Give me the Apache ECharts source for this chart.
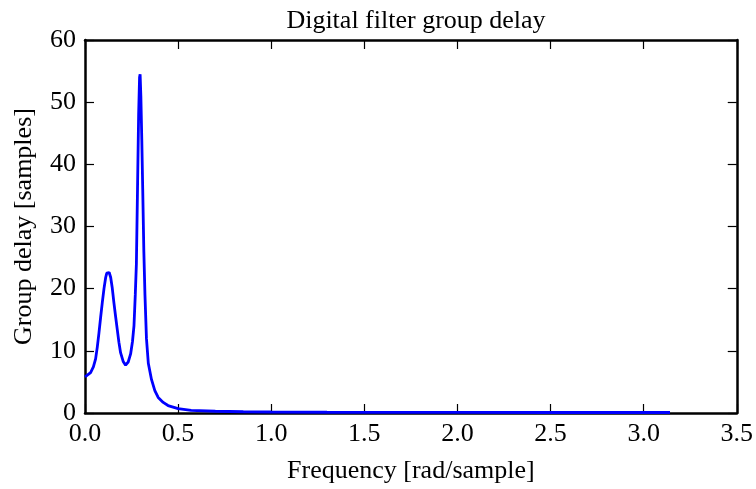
<!DOCTYPE html>
<html>
<head>
<meta charset="utf-8">
<script src="https://cdn.jsdelivr.net/npm/echarts@6/dist/echarts.min.js"></script>
<style>
html,body{margin:0;padding:0;background:#fff;}
#chart{width:756px;height:489px;}
</style>
</head>
<body>
<div id="chart"></div>
<script>
// Values
const freq = [0.0, 0.01, 0.03, 0.045, 0.057, 0.066, 0.075, 0.084, 0.093, 0.102, 0.111, 0.117, 0.123, 0.130, 0.138, 0.146, 0.155, 0.164, 0.173, 0.182, 0.191, 0.205, 0.218, 0.232, 0.245, 0.255, 0.263, 0.270, 0.276, 0.282, 0.288, 0.293, 0.296, 0.300, 0.305, 0.310, 0.316, 0.322, 0.330, 0.340, 0.357, 0.375, 0.393, 0.420, 0.446, 0.500, 0.570, 0.700, 0.850, 1.000, 1.300, 1.600, 2.000, 2.500, 3.1416];
const delay = [5.8, 5.9, 6.5, 7.4, 8.7, 10.6, 12.9, 15.4, 17.8, 20.0, 21.8, 22.5, 22.8, 22.6, 21.8, 20.2, 17.8, 15.6, 13.5, 11.4, 9.7, 8.3, 7.7, 8.2, 9.5, 11.5, 14.0, 19.0, 24.0, 36.0, 48.0, 54.0, 54.5, 51.0, 44.0, 36.0, 26.0, 19.0, 12.0, 8.0, 5.4, 3.6, 2.5, 1.7, 1.2, 0.7, 0.42, 0.28, 0.20, 0.16, 0.12, 0.10, 0.09, 0.08, 0.08];
const xTicks = [0.0, 0.5, 1.0, 1.5, 2.0, 2.5, 3.0, 3.5];
const yTicks = [0, 10, 20, 30, 40, 50, 60];
const titleText = 'Digital filter group delay';
const xName = 'Frequency [rad/sample]';
const yName = 'Group delay [samples]';

const FONT = '"Liberation Serif", "DejaVu Serif", serif';
const FS = 26;
const chart = echarts.init(document.getElementById('chart'), null, {renderer: 'canvas'});
const pts = freq.map((f, i) => [f, delay[i]]);
const axisLine = {show: true, onZero: false, lineStyle: {color: '#000', width: 2.5}};
const tick = {show: true, inside: true, length: 9, lineStyle: {color: '#000', width: 1.2}};
chart.setOption({
  animation: false,
  title: {text: titleText, left: 411, textAlign: 'center', top: 3,
    textStyle: {fontFamily: FONT, fontWeight: 'normal', fontSize: FS, color: '#000'}},
  grid: {left: 85, right: 18, top: 40, bottom: 75, containLabel: false},
  xAxis: [{
    type: 'value', min: xTicks[0], max: xTicks[xTicks.length - 1], interval: 0.5,
    name: xName, nameLocation: 'middle', nameGap: 45,
    nameTextStyle: {fontFamily: FONT, fontSize: FS, color: '#000'},
    axisLine: axisLine, axisTick: tick, splitLine: {show: false},
    axisLabel: {fontFamily: FONT, fontSize: FS, color: '#000', margin: 8,
      formatter: v => v.toFixed(1)}
  }, {
    type: 'value', position: 'top', min: xTicks[0], max: xTicks[xTicks.length - 1], interval: 0.5,
    axisLine: axisLine, axisTick: tick, axisLabel: {show: false}, splitLine: {show: false}
  }],
  yAxis: [{
    type: 'value', min: yTicks[0], max: yTicks[yTicks.length - 1], interval: 10,
    name: yName, nameLocation: 'middle', nameGap: 48, nameRotate: 90,
    nameTextStyle: {fontFamily: FONT, fontSize: FS, color: '#000'},
    axisLine: axisLine, axisTick: tick, splitLine: {show: false},
    axisLabel: {fontFamily: FONT, fontSize: FS, color: '#000', margin: 9}
  }, {
    type: 'value', position: 'right', min: yTicks[0], max: yTicks[yTicks.length - 1], interval: 10,
    axisLine: axisLine, axisTick: tick, axisLabel: {show: false}, splitLine: {show: false}
  }],
  series: [{
    type: 'line', data: pts, xAxisIndex: 0, yAxisIndex: 0,
    showSymbol: false, symbol: 'none', smooth: false,
    lineStyle: {color: '#0000ff', width: 2.8}, z: 1
  }]
});
</script>
</body>
</html>
